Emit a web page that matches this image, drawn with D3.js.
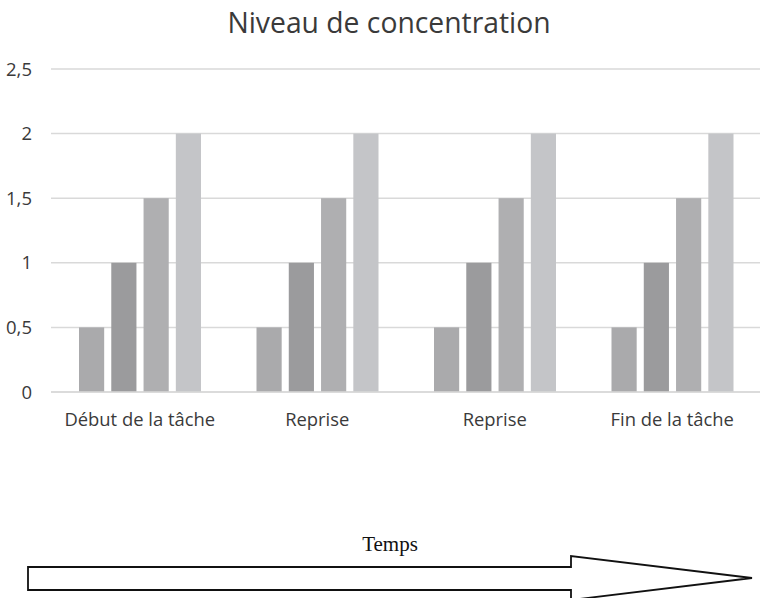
<!DOCTYPE html>
<html><head><meta charset="utf-8">
<script src="https://cdn.jsdelivr.net/npm/d3@7"></script>
<style>body{margin:0;background:#fff}</style>
</head><body>
<svg id="c" width="760" height="598"></svg>
<script>
const categories = ["Début de la tâche", "Reprise", "Reprise", "Fin de la tâche"];
const seriesNames = ["S1", "S2", "S3", "S4"];
const series1 = [0.5, 0.5, 0.5, 0.5];
const series2 = [1, 1, 1, 1];
const series3 = [1.5, 1.5, 1.5, 1.5];
const series4 = [2, 2, 2, 2];
const yTicks = [0, 0.5, 1, 1.5, 2, 2.5];
const colors = ["#aaaaac", "#9b9b9d", "#afafb1", "#c4c5c8"];
const allSeries = [series1, series2, series3, series4];

const svg = d3.select("#c");
const font = "'Open Sans', sans-serif";
const x0 = d3.scaleBand().domain(d3.range(categories.length)).range([51, 761]).paddingInner(0).paddingOuter(0);
const x1 = d3.scaleBand().domain(d3.range(seriesNames.length)).range([28, 150]).paddingInner(0.22);
const y = d3.scaleLinear().domain([0, 2.5]).range([392, 69]);

// gridlines
svg.append("g").selectAll("line").data(yTicks).join("line")
  .attr("x1", 51).attr("x2", 760)
  .attr("y1", d => y(d)).attr("y2", d => y(d))
  .attr("stroke", "#d9d9d9").attr("stroke-width", 1.5);

// y labels
svg.append("g").selectAll("text").data(yTicks).join("text")
  .attr("x", 32).attr("y", d => y(d)).attr("dy", "0.36em")
  .attr("text-anchor", "end").attr("font-family", font).attr("font-size", 18.5)
  .attr("fill", "#3a3a3a").text(d => d3.format("")(d).replace(".", ","));

// bars
const g = svg.append("g");
categories.forEach((c, i) => {
  allSeries.forEach((s, j) => {
    g.append("rect")
      .attr("x", x0(i) + x1(j)).attr("width", x1.bandwidth())
      .attr("y", y(s[i])).attr("height", y(0) - y(s[i]))
      .attr("fill", colors[j]);
  });
});
// zero line on top
svg.append("line").attr("x1", 51).attr("x2", 760).attr("y1", y(0)).attr("y2", y(0))
  .attr("stroke", "#d9d9d9").attr("stroke-width", 1.5);

// category labels
svg.append("g").selectAll("text").data(categories).join("text")
  .attr("x", (d, i) => x0(i) + x0.bandwidth() / 2).attr("y", 426)
  .attr("text-anchor", "middle").attr("font-family", font).attr("font-size", 18.4)
  .attr("fill", "#3a3a3a").text(d => d);

// title
svg.append("text").attr("x", 389).attr("y", 33).attr("text-anchor", "middle")
  .attr("font-family", font).attr("font-size", 28.3).attr("fill", "#3a3a3a")
  .text("Niveau de concentration");

// arrow
svg.append("text").attr("x", 390).attr("y", 551).attr("text-anchor", "middle")
  .attr("font-family", "'Liberation Serif', serif").attr("font-size", 21).attr("fill", "#111")
  .text("Temps");
const arrowPts = [[28, 567], [571, 567], [571, 556], [752, 578], [571, 600], [571, 590], [28, 590]];
svg.append("path").attr("d", d3.line()(arrowPts) + "Z")
  .attr("fill", "#fff").attr("stroke", "#111").attr("stroke-width", 1.8);
</script>
</body></html>
